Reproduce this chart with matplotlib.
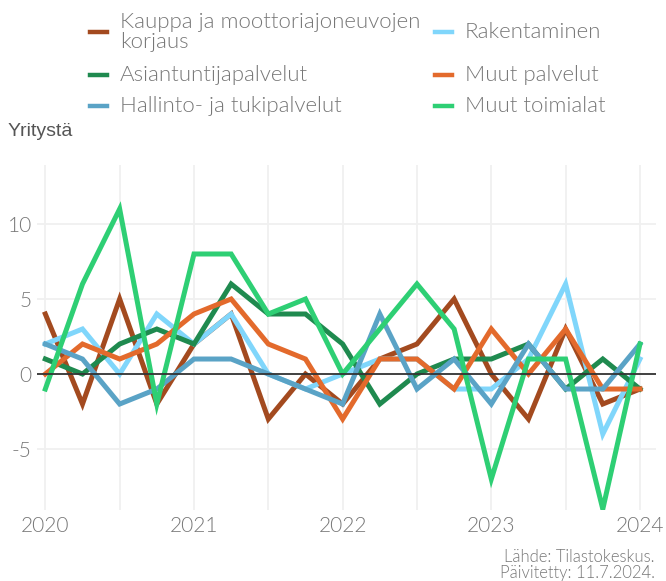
import matplotlib.pyplot as plt
from matplotlib.lines import Line2D

plt.rcParams['font.family'] = ['Lato', 'DejaVu Sans']
plt.rcParams['font.weight'] = 300

# quarters 2020Q1 .. 2024Q1
years = [2020 + i / 4 for i in range(17)]

kauppa = [4, -2, 5, -2, 2, 4, -3, 0, -2, 1, 2, 5, 0, -3, 3, -2, -1]
rakentaminen = [2, 3, 0, 4, 2, 4, 0, -1, 0, 1, 1, -1, -1, 1, 6, -4, 1]
asiantuntija = [1, 0, 2, 3, 2, 6, 4, 4, 2, -2, 0, 1, 1, 2, -1, 1, -1]
muut_palvelut = [0, 2, 1, 2, 4, 5, 2, 1, -3, 1, 1, -1, 3, 0, 3, -1, -1]
hallinto = [2, 1, -2, -1, 1, 1, 0, -1, -2, 4, -1, 1, -2, 2, -1, -1, 2]
muut_toimialat = [-1, 6, 11, -2, 8, 8, 4, 5, 0, 3, 6, 3, -7, 1, 1, -9, 2]

# draw order follows legend rows
series = [
    ('Kauppa ja moottoriajoneuvojen\nkorjaus', kauppa, '#a34a1f'),
    ('Rakentaminen', rakentaminen, '#80d6fb'),
    ('Asiantuntijapalvelut', asiantuntija, '#1f8a4f'),
    ('Muut palvelut', muut_palvelut, '#e36a2c'),
    ('Hallinto- ja tukipalvelut', hallinto, '#5aa3c6'),
    ('Muut toimialat', muut_toimialat, '#2ecf74'),
]

fig = plt.figure(figsize=(6.66, 5.81), dpi=100)
ax = fig.add_axes([0.056, 0.122, 0.929, 0.594])

for name, vals, col in series:
    ax.plot(years, vals, color=col, lw=3.6, solid_joinstyle='miter')

ax.axhline(0, color='#333333', lw=1.3, zorder=10)

ax.set_xlim(2019.946, 2024.108)
ax.set_ylim(-9.07, 13.93)
ax.set_xticks([2020, 2021, 2022, 2023, 2024])
ax.set_xticks([2020.5, 2021.5, 2022.5, 2023.5], minor=True)
ax.set_yticks([-5, 0, 5, 10])
ax.set_yticklabels(['-5', '0', '5', '10'])
ax.grid(True, which='both', color='#f0f0f0', lw=1.3)
ax.set_axisbelow(True)
ax.tick_params(which='both', length=0, labelsize=15, colors='#777777', pad=4)
for s in ax.spines.values():
    s.set_visible(False)

# legend, laid out by hand to keep rows aligned
W, H = 666, 581
slots = [(0, 32), (1, 32), (0, 75), (1, 75), (0, 106), (1, 106)]
for (name, vals, col), (c, yp) in zip(series, slots):
    x0 = 90 if c == 0 else 435
    fig.add_artist(Line2D([x0 / W, (x0 + 17) / W], [1 - yp / H, 1 - yp / H],
                          color=col, lw=3.2, transform=fig.transFigure))
    fig.text((x0 + 30) / W, 1 - yp / H, name, fontsize=16, color='#777777',
             va='center', ha='left', linespacing=1.05)

fig.text(8 / W, 1 - 131 / H, 'Yritystä', fontsize=14, color='#555555',
         va='center', ha='left', family=['Liberation Sans', 'DejaVu Sans'],
         weight='normal')
fig.text(655 / W, 1 - 565 / H, 'Lähde: Tilastokeskus.\nPäivitetty: 11.7.2024.',
         fontsize=12, color='#777777', ha='right', va='center', linespacing=1.0)

fig.savefig('out.png', dpi=100)
